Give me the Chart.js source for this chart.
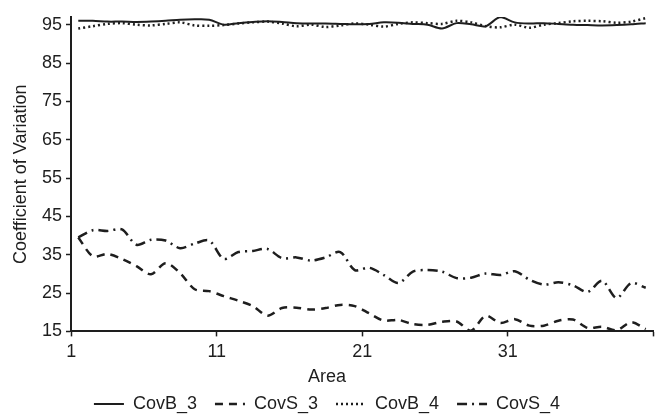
<!DOCTYPE html>
<html lang="en">
<head>
<meta charset="UTF-8">
<title>Coefficient of Variation by Area</title>
<script src="https://cdn.jsdelivr.net/npm/chart.js"></script>
<style>
  html, body { margin: 0; padding: 0; background: #fff; }
</style>
</head>
<body>
<canvas id="covChart" width="657" height="418"></canvas>
<script>
// Areas along the x axis
const areas = [1, 2, 3, 4, 5, 6, 7, 8, 9, 10,
               11, 12, 13, 14, 15, 16, 17, 18, 19, 20,
               21, 22, 23, 24, 25, 26, 27, 28, 29, 30,
               31, 32, 33, 34, 35, 36, 37, 38, 39, 40];
// only these areas get a label
const shownAreas = [1, 11, 21, 31];
const yTicks = [15, 25, 35, 45, 55, 65, 75, 85, 95];

// values
const covB3 = [96.0, 96.0, 95.8, 95.8, 95.7, 95.8, 96.0, 96.3, 96.4, 96.3,
               95.0, 95.4, 95.7, 95.9, 95.7, 95.4, 95.3, 95.3, 95.2, 95.1,
               95.2, 95.6, 95.5, 95.2, 95.0, 94.0, 95.4, 95.1, 94.6, 97.0,
               95.6, 95.3, 95.4, 95.2, 95.0, 94.9, 94.8, 94.9, 95.1, 95.4];
const covS3 = [39.5, 34.6, 35.2, 33.9, 32.0, 29.9, 32.8, 30.2, 26.0, 25.5,
               24.2, 23.0, 21.6, 19.1, 21.1, 21.2, 20.7, 21.1, 21.9, 21.6,
               19.7, 17.8, 18.0, 16.9, 16.7, 17.5, 17.6, 15.2, 19.1, 17.2,
               18.2, 16.5, 16.5, 17.8, 18.1, 15.9, 16.2, 15.3, 17.4, 15.6];
const covB4 = [94.0, 94.6, 95.2, 95.4, 95.0, 94.8, 95.2, 95.6, 94.8, 94.7,
               94.9, 95.3, 95.6, 95.8, 95.3, 94.6, 95.0, 94.4, 94.8, 95.3,
               95.0, 94.5, 95.2, 95.6, 95.4, 95.2, 96.0, 95.6, 94.6, 94.3,
               95.0, 94.2, 95.0, 95.4, 95.9, 96.0, 95.9, 95.5, 95.8, 96.7];
const covS4 = [39.5, 41.4, 41.2, 41.6, 37.6, 38.9, 38.7, 36.7, 37.9, 38.7,
               33.9, 35.7, 36.0, 36.5, 34.1, 34.3, 33.5, 34.3, 35.7, 31.0,
               31.6, 29.7, 27.6, 30.6, 31.0, 30.6, 28.9, 29.0, 30.1, 29.7,
               30.7, 28.5, 27.2, 27.8, 27.0, 25.3, 28.2, 23.7, 27.6, 26.4];

const ink = '#1e1e1e';
Chart.defaults.font.family = '"Liberation Sans", Arial, sans-serif';
Chart.defaults.font.size = 18;
Chart.defaults.color = ink;

function series(label, data, dash, width) {
    return {
        label: label,
        data: data,
        borderColor: ink,
        backgroundColor: ink,
        borderWidth: width,
        borderDash: dash,
        pointRadius: 0,
        tension: 0.3,
        fill: false
    };
}

const baseLabels = Chart.defaults.plugins.legend.labels.generateLabels;

new Chart(document.getElementById('covChart'), {
    type: 'line',
    data: {
        labels: areas,
        datasets: [
            series('CovB_3', covB3, [], 2),
            series('CovS_3', covS3, [8, 6], 2.5),
            series('CovB_4', covB4, [2, 3], 2.5),
            series('CovS_4', covS4, [10, 5, 2, 5], 2.5)
        ]
    },
    options: {
        responsive: false,
        animation: false,
        layout: { padding: { left: 1, right: 4, top: 17, bottom: -5 } },
        scales: {
            x: {
                offset: true,
                grid: {
                    offset: true,
                    drawOnChartArea: false,
                    tickLength: 5,
                    tickWidth: 1.5,
                    // tick marks only every 10 areas
                    tickColor: ctx => (ctx.index === undefined || ctx.index % 10 === 0) ? ink : 'rgba(0,0,0,0)'
                },
                border: { color: ink, width: 2 },
                ticks: {
                    autoSkip: false,
                    maxRotation: 0,
                    labelOffset: -7,
                    padding: 5,
                    callback: (v, i) => shownAreas.includes(areas[i]) ? String(areas[i]) : ''
                },
                afterFit: s => { s.height = 34; }
            },
            y: {
                min: 15,
                max: 97,
                afterBuildTicks: s => { s.ticks = yTicks.map(v => ({ value: v })); },
                grid: { drawOnChartArea: false, tickLength: 5, tickColor: ink, tickWidth: 1.5 },
                border: { color: ink, width: 2 },
                ticks: { padding: 4 },
                title: { display: true, text: 'Coefficient of Variation', padding: { top: 9, bottom: 0 } },
                afterFit: s => { s.width = 70; }
            }
        },
        plugins: {
            tooltip: { enabled: false },
            legend: {
                position: 'bottom',
                title: { display: true, text: 'Area', padding: { top: 3, bottom: -13 } },
                labels: {
                    usePointStyle: true,
                    pointStyle: 'line',
                    pointStyleWidth: 30,
                    padding: 18,
                    // carry each line's dash into its legend sample
                    generateLabels: chart => baseLabels(chart).map(item => {
                        const ds = chart.data.datasets[item.datasetIndex];
                        item.lineDash = ds.borderDash;
                        item.lineWidth = ds.borderWidth;
                        item.strokeStyle = ds.borderColor;
                        item.pointStyle = 'line';
                        return item;
                    })
                }
            }
        }
    }
});
</script>
</body>
</html>
